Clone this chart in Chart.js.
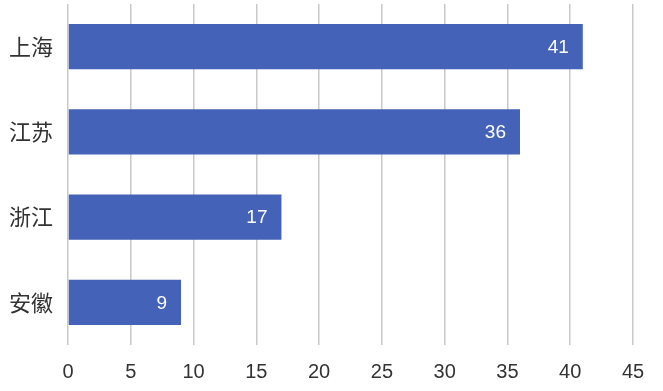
<!DOCTYPE html>
<html>
<head>
<meta charset="utf-8">
<script src="https://cdn.jsdelivr.net/npm/chart.js@4"></script>
<style>
html,body{margin:0;padding:0;background:#fff;}
#wrap{width:663px;height:391px;position:relative;}
</style>
</head>
<body>
<div id="wrap"><canvas id="c"></canvas></div>
<script>
const categories = ["上海", "江苏", "浙江", "安徽"];
const values = [41, 36, 17, 9];
const xTicks = [0, 5, 10, 15, 20, 25, 30, 35, 40, 45];

const barLabels = {
  id: 'barLabels',
  afterDatasetsDraw(chart) {
    const ctx = chart.ctx;
    const meta = chart.getDatasetMeta(0);
    ctx.save();
    ctx.fillStyle = '#ffffff';
    ctx.font = '19px "Liberation Sans", Arial, sans-serif';
    ctx.textAlign = 'right';
    ctx.textBaseline = 'middle';
    meta.data.forEach((bar, i) => {
      ctx.fillText(String(values[i]), bar.x - 14, bar.y + 1);
    });
    ctx.restore();
  }
};

new Chart(document.getElementById('c'), {
  type: 'bar',
  data: {
    labels: categories,
    datasets: [{
      data: values,
      backgroundColor: '#4462b7',
      borderWidth: 0,
      barPercentage: 0.53,
      categoryPercentage: 1.0
    }]
  },
  options: {
    indexAxis: 'y',
    responsive: true,
    maintainAspectRatio: false,
    animation: false,
    layout: { padding: { top: 4, right: 30, left: 0, bottom: 0 } },
    plugins: { legend: { display: false }, tooltip: { enabled: false } },
    scales: {
      x: {
        min: 0, max: 45,
        afterBuildTicks(scale) { scale.ticks = xTicks.map(v => ({ value: v })); },
        afterFit(scale) { scale.height = 46; },
        grid: { color: '#c8c8c8', lineWidth: 1.5, drawTicks: false },
        border: { display: false },
        ticks: {
          color: '#333333',
          padding: 15,
          font: { family: '"Liberation Sans", Arial, sans-serif', size: 20 }
        }
      },
      y: {
        afterFit(scale) { scale.width = 68; scale.paddingTop = 0; scale.paddingBottom = 0; },
        grid: { display: false, drawTicks: false },
        border: { display: false },
        ticks: {
          color: '#333333',
          padding: 15,
          font: { family: '"Noto Sans CJK SC", sans-serif', size: 22 }
        }
      }
    }
  },
  plugins: [barLabels]
});
</script>
</body>
</html>
